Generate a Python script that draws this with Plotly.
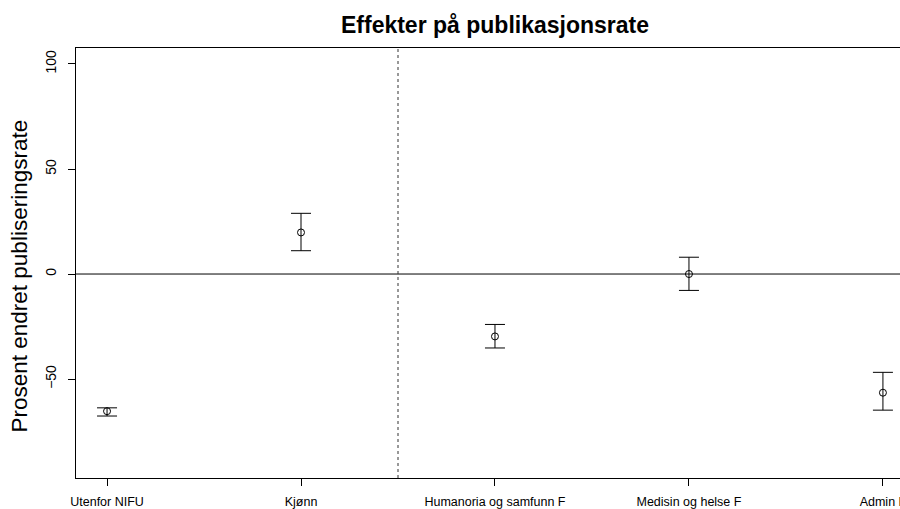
import plotly.graph_objects as go

categories = ["Utenfor NIFU", "Kjønn", "Humanoria og samfunn F", "Medisin og helse F", "Admin F"]
x_pos = [1, 2, 3, 4, 5]
estimates = [-65.3, 19.8, -29.7, 0.0, -56.5]
upper = [-63.7, 28.9, -24.0, 8.0, -46.8]
lower = [-67.6, 11.1, -35.2, -7.8, -64.8]
y_ticks = [-50, 0, 50, 100]
ref_y = 0
split_x = 2.5

err_plus = [u - e for u, e in zip(upper, estimates)]
err_minus = [e - l for e, l in zip(estimates, lower)]

FONT = "Liberation Sans, Arial, Helvetica, sans-serif"

fig = go.Figure()
fig.add_trace(go.Scatter(
    x=x_pos, y=estimates, mode="markers",
    marker=dict(symbol="circle-open", size=7, color="black", line=dict(width=1, color="black")),
    error_y=dict(type="data", symmetric=False, array=err_plus, arrayminus=err_minus,
                 color="black", thickness=1, width=10),
    showlegend=False, hoverinfo="skip",
))

fig.add_shape(type="line", xref="paper", yref="y", x0=0, x1=1, y0=ref_y, y1=ref_y,
              line=dict(color="black", width=1), layer="below")
fig.add_shape(type="line", xref="x", yref="paper", x0=split_x, x1=split_x, y0=0, y1=1,
              line=dict(color="#333333", width=1, dash="3px,3px"), layer="below")

fig.add_annotation(text="Prosent endret publiseringsrate", textangle=-90,
                   xref="paper", yref="paper", x=(20 - 76) / 824, y=0.4686,
                   xanchor="center", yanchor="middle", showarrow=False,
                   font=dict(family=FONT, size=22.5, color="black"))

fig.update_layout(
    width=900, height=509,
    margin=dict(l=76, r=0, t=48, b=31, autoexpand=False),
    paper_bgcolor="white", plot_bgcolor="white",
    title=dict(text="<b>Effekter på publikasjonsrate</b>", xref="container", yref="container",
               x=495 / 900, y=1 - 25 / 509, xanchor="center", yanchor="middle",
               font=dict(family=FONT, size=23, color="black"), automargin=False),
    font=dict(family=FONT, color="black"),
)
fig.update_xaxes(range=[0.84, 5.088], tickvals=x_pos, ticktext=categories,
                 showgrid=False, zeroline=False, showline=True, linecolor="black", linewidth=1,
                 mirror=True, ticks="outside", ticklen=7, tickcolor="black", tickwidth=1,
                 tickfont=dict(family=FONT, size=12.5, color="black"), tickangle=0,
                 automargin=False, ticklabeloverflow="allow", ticklabelstandoff=5)
fig.update_yaxes(range=[-97.1, 107.6], tickvals=y_ticks, ticktext=[str(v).replace("-", "\u2212") for v in y_ticks],
                 showgrid=False, zeroline=False, showline=True, linecolor="black", linewidth=1,
                 ticks="outside", ticklen=7, tickcolor="black", tickwidth=1,
                 tickfont=dict(family=FONT, size=14, color="black"), tickangle=-90,
                 ticklabelstandoff=6, automargin=False)

fig.write_html("out.html", config={"displayModeBar": False, "staticPlot": True},
               post_script="document.body.style.margin='0';document.body.style.overflow='hidden';")
